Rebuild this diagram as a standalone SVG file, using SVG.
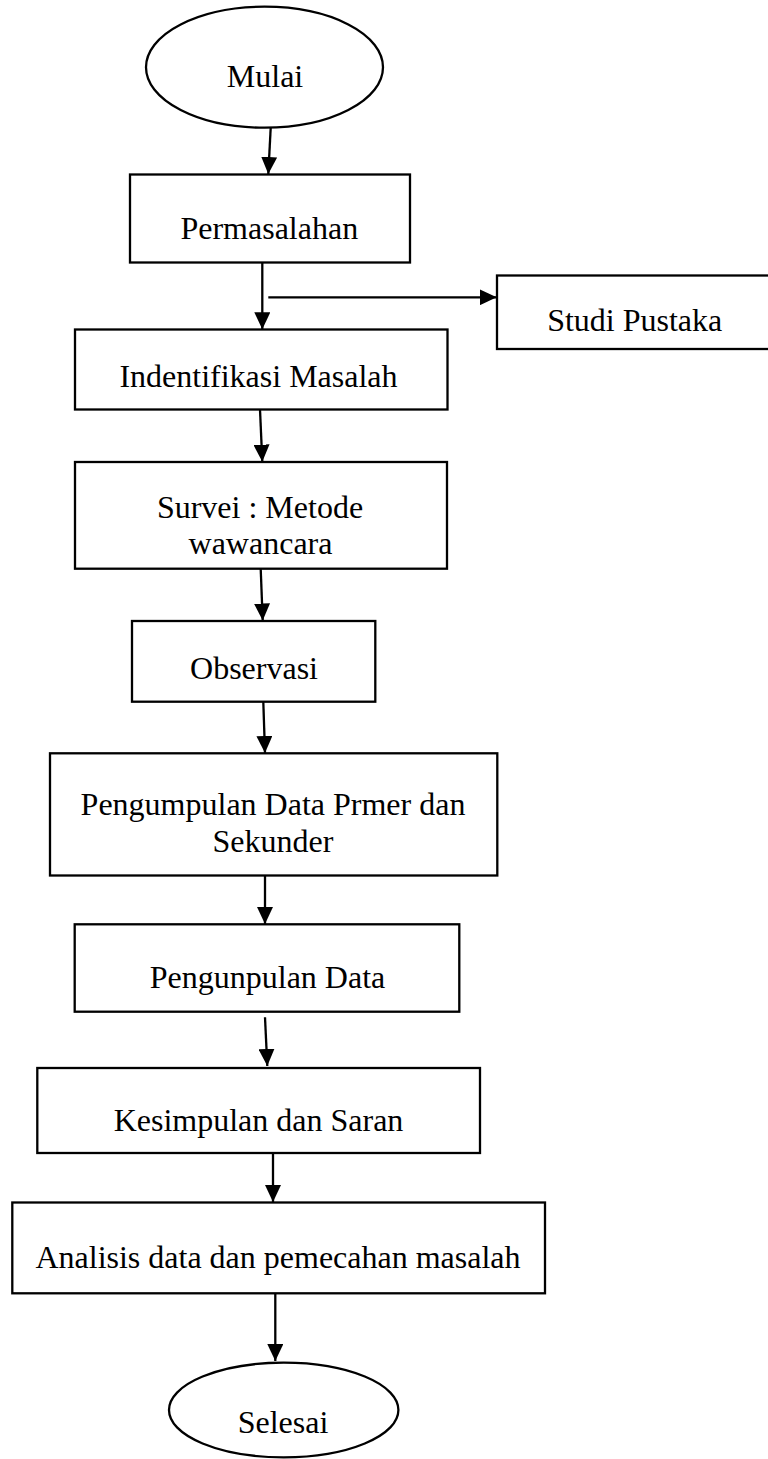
<svg xmlns="http://www.w3.org/2000/svg" width="768" height="1459" viewBox="0 0 768 1459">
<style>
.box{fill:#fff;stroke:#000;stroke-width:2.3}
.t{font-family:"Liberation Serif","Times New Roman",serif;font-size:32px;fill:#000;text-anchor:middle}
.c{stroke:#000;stroke-width:2.3;fill:none;marker-end:url(#ah)}
</style>
<defs>
<marker id="ah" markerUnits="userSpaceOnUse" markerWidth="17" markerHeight="16" refX="17" refY="8" orient="auto">
<path d="M0,0 L17,8 L0,16 z" fill="#000"/>
</marker>
</defs>
<rect width="768" height="1459" fill="#fff"/>
<g id="connectors">
<line class="c" x1="270.7" y1="127.7" x2="268.3" y2="174"/>
<line class="c" x1="262.3" y1="262.3" x2="262.3" y2="329.3"/>
<line class="c" x1="268.3" y1="297.3" x2="496.7" y2="297.3"/>
<line class="c" x1="260" y1="409.5" x2="262.3" y2="461.7"/>
<line class="c" x1="260.7" y1="568.7" x2="262.7" y2="620.5"/>
<line class="c" x1="263.3" y1="701.7" x2="265" y2="753"/>
<line class="c" x1="265" y1="875.5" x2="265" y2="924"/>
<line class="c" x1="265" y1="1017.3" x2="267.3" y2="1066"/>
<line class="c" x1="273" y1="1153" x2="273" y2="1202"/>
<line class="c" x1="275.3" y1="1293.3" x2="275.3" y2="1361"/>
</g>
<g id="mulai">
<ellipse class="box" cx="264.5" cy="67.2" rx="118.5" ry="60.5"/>
<text class="t" x="265" y="87">Mulai</text>
</g>
<g id="permasalahan">
<rect class="box" x="130" y="174.5" width="280" height="88"/>
<text class="t" x="269.3" y="239">Permasalahan</text>
</g>
<g id="studi-pustaka">
<rect class="box" x="497" y="275.5" width="275" height="73.5"/>
<text class="t" x="634.7" y="331">Studi Pustaka</text>
</g>
<g id="identifikasi">
<rect class="box" x="75" y="329.5" width="372.5" height="80"/>
<text class="t" x="258.5" y="387">Indentifikasi Masalah</text>
</g>
<g id="survei">
<rect class="box" x="75" y="462" width="372" height="106.7"/>
<text class="t" x="260" y="518">Survei : Metode</text>
<text class="t" x="260.5" y="554">wawancara</text>
</g>
<g id="observasi">
<rect class="box" x="132" y="621" width="243.3" height="80.7"/>
<text class="t" x="254" y="679">Observasi</text>
</g>
<g id="pengumpulan-data-primer">
<rect class="box" x="50" y="753.3" width="447.3" height="122.2"/>
<text class="t" x="273" y="815">Pengumpulan Data Prmer dan</text>
<text class="t" x="273" y="852">Sekunder</text>
</g>
<g id="pengunpulan-data">
<rect class="box" x="74.7" y="924.3" width="384.6" height="87.4"/>
<text class="t" x="267.5" y="988">Pengunpulan Data</text>
</g>
<g id="kesimpulan">
<rect class="box" x="37.3" y="1068" width="442.7" height="85"/>
<text class="t" x="258.5" y="1131">Kesimpulan dan Saran</text>
</g>
<g id="analisis">
<rect class="box" x="12.3" y="1202.5" width="532.7" height="90.8"/>
<text class="t" x="278" y="1268">Analisis data dan pemecahan masalah</text>
</g>
<g id="selesai">
<ellipse class="box" cx="283.7" cy="1410" rx="114.7" ry="47.3"/>
<text class="t" x="283" y="1433">Selesai</text>
</g>
</svg>
